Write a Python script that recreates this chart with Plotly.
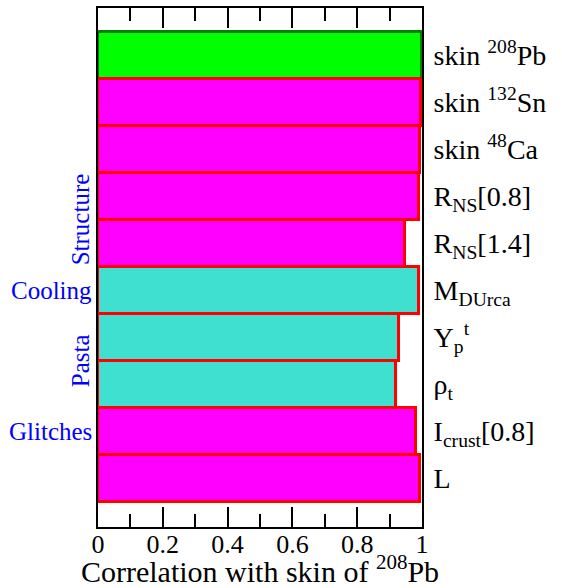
import plotly.graph_objects as go

categories = [
    "skin <sup>208</sup>Pb",
    "skin <sup>132</sup>Sn",
    "skin <sup>48</sup>Ca",
    "R<sub>NS</sub>[0.8]",
    "R<sub>NS</sub>[1.4]",
    "M<sub>DUrca</sub>",
    "Y<sub>p</sub><sup>t</sup>",
    "ρ<sub>t</sub>",
    "I<sub>crust</sub>[0.8]",
    "L",
]
correlations = [1.0, 0.998, 0.995, 0.99, 0.948, 0.99, 0.93, 0.92, 0.98, 0.995]
fill_colors = ["#00ff00", "#ff00ff", "#ff00ff", "#ff00ff", "#ff00ff",
               "#40e0d0", "#40e0d0", "#40e0d0", "#ff00ff", "#ff00ff"]
edge_colors = ["#008000"] + ["#ff0000"] * 9

group_labels = ["Structure", "Cooling", "Pasta", "Glitches"]
group_pos = [3.5, 5, 6.5, 8]
group_rot = [-90, 0, -90, 0]

FONT = "Liberation Serif, Times New Roman, serif"

fig = go.Figure()
fig.add_trace(go.Bar(
    x=correlations,
    y=categories,
    orientation="h",
    marker=dict(color=fill_colors, line=dict(color=edge_colors, width=3)),
    showlegend=False,
    hoverinfo="x+y",
))

for lab, pos, rot in zip(group_labels, group_pos, group_rot):
    if rot == 0:
        fig.add_annotation(text=lab, x=-0.013, xref="paper", y=pos, yref="y",
                           xanchor="right", yanchor="middle", showarrow=False,
                           font=dict(family=FONT, size=25, color="#0000ff"))
    else:
        fig.add_annotation(text=lab, x=-0.054, xref="paper", y=pos, yref="y",
                           xanchor="center", yanchor="middle", showarrow=False,
                           textangle=rot,
                           font=dict(family=FONT, size=25, color="#0000ff"))

fig.update_layout(
    width=562, height=588,
    margin=dict(l=98, r=140, t=8, b=61, pad=0),
    paper_bgcolor="white", plot_bgcolor="white",
    bargap=0,
    font=dict(family=FONT, color="black"),
    xaxis=dict(
        range=[0, 1], dtick=0.2, tick0=0, automargin=False,
        showgrid=False, zeroline=False,
        showline=True, linecolor="black", linewidth=2, mirror="ticks",
        ticks="inside", ticklen=20, tickwidth=2, tickcolor="black",
        minor=dict(dtick=0.1, ticks="inside", ticklen=13, tickwidth=2,
                   tickcolor="black", showgrid=False),
        tickfont=dict(family=FONT, size=26), ticklabelstandoff=-7,
        title=dict(text="Correlation with skin of <sup>208</sup>Pb",
                   font=dict(family=FONT, size=30), standoff=13),
    ),
    yaxis=dict(
        type="category", automargin=False,
        categoryorder="array", categoryarray=categories,
        range=[10.04, -1.01],
        side="right",
        showgrid=False, zeroline=False,
        showline=True, linecolor="black", linewidth=2, mirror=True,
        ticks="", ticklabelstandoff=4,
        tickfont=dict(family=FONT, size=28),
    ),
)

fig.write_html("out.html")
